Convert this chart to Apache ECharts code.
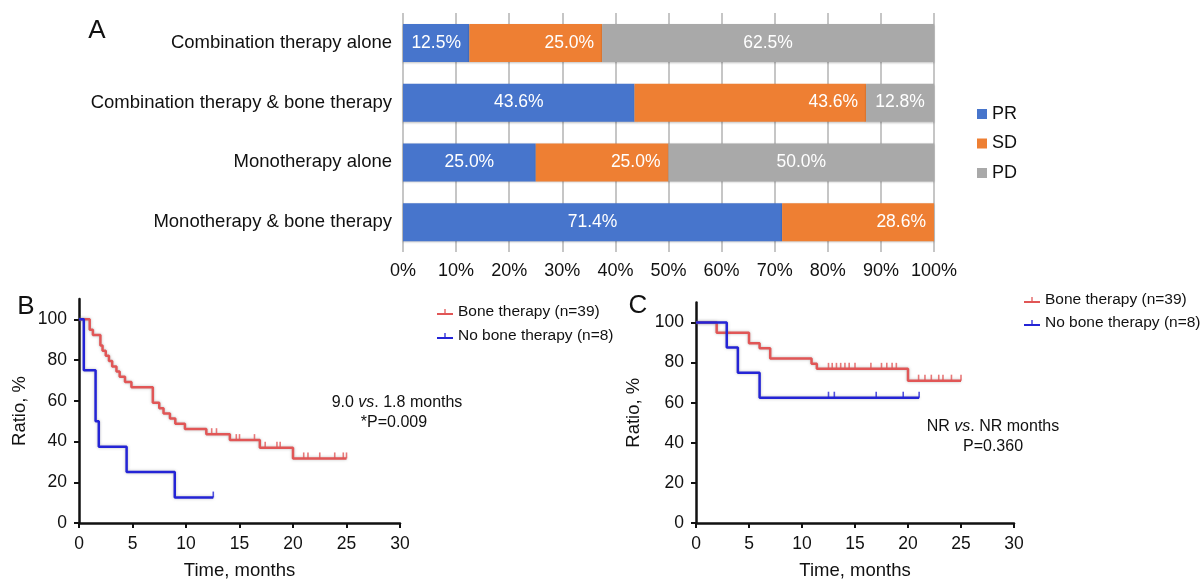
<!DOCTYPE html>
<html>
<head>
<meta charset="utf-8">
<script src="https://cdn.jsdelivr.net/npm/echarts@6/dist/echarts.min.js"></script>
<style>
  html, body { margin: 0; padding: 0; background: #fff; }
  #chart { width: 1204px; height: 581px; }
</style>
</head>
<body>
<div id="chart"></div>
<script>
// Panel A - response by treatment group
const categories = [
  'Combination therapy alone',
  'Combination therapy & bone therapy',
  'Monotherapy alone',
  'Monotherapy & bone therapy',
]
const prValues = [12.5, 43.6, 25.0, 71.4]
const sdValues = [25.0, 43.6, 25.0, 28.6]
const pdValues = [62.5, 12.8, 50.0, 0]
const pctTicks = [0, 10, 20, 30, 40, 50, 60, 70, 80, 90, 100]

// Panel B - KM steps [months, %]
const boneB = [[0, 100], [1.0, 94.9], [1.3, 92.3], [2.0, 87.2], [2.2, 84.6], [2.5, 82.1], [2.8, 79.5],
  [3.1, 76.9], [3.5, 74.4], [3.8, 71.8], [4.3, 69.2], [4.9, 66.7], [6.9, 59.0], [7.5, 56.4],
  [7.9, 53.8], [8.5, 51.3], [9.0, 48.7], [9.9, 46.2], [11.9, 43.6], [14.1, 40.7], [16.9, 37.0],
  [20.0, 31.7], [25.0, 31.7]]
const boneBCensor = [12.4, 12.85, 14.7, 15.0, 16.4, 17.4, 18.5, 18.8, 21.0, 21.4, 22.5, 23.9, 24.7, 25.0]
const noBoneB = [[0, 100], [0.45, 75], [1.55, 50], [1.85, 37.5], [4.45, 25], [8.95, 12.5], [12.55, 12.5]]
const noBoneBCensor = [12.55]

// Panel C - KM steps [months, %]
const boneC = [[0, 100], [1.95, 94.9], [5.0, 89.7], [6.0, 87.2], [7.0, 82.1], [10.9, 79.5], [11.4, 76.9],
  [20.0, 71.0], [25.0, 71.0]]
const boneCCensor = [12.5, 12.85, 13.25, 13.65, 14.05, 14.45, 15.0, 16.5, 17.5, 18.0, 18.5, 18.9,
  21.0, 21.6, 22.2, 22.9, 23.3, 24.1, 25.0]
const noBoneC = [[0, 100], [2.9, 87.5], [3.95, 75], [6.0, 62.5], [21.05, 62.5]]
const noBoneCCensor = [12.5, 13.05, 17.0, 19.55, 21.05]

const yTicks = [0, 20, 40, 60, 80, 100]
const boneName = 'Bone therapy (n=39)'
const noBoneName = 'No bone therapy (n=8)'

const FONT = "'Liberation Sans', Helvetica, Arial, sans-serif"
const RED = '#e15656'
const BLUE = '#2424d6'
const kmIcon = 'path://M0,8 L20,8 L20,10.5 L0,10.5 Z M9.2,3 L10.8,3 L10.8,9 L9.2,9 Z'

// survival value in effect at time t (step function)
const survAt = (steps, t) => {
  let v = steps[0][1]
  steps.forEach(([x, y]) => { if (x <= t) v = y })
  return v
}

const barLabel = position => ({
  show: true,
  position,
  distance: 8,
  color: '#fff',
  fontSize: 17.5,
  fontFamily: FONT,
  formatter: p => (p.value > 0 ? p.value.toFixed(1) + '%' : ''),
})

const barSeries = (name, data, color, position) => ({
  type: 'bar',
  name,
  stack: 'resp',
  data,
  barWidth: 38,
  xAxisIndex: 0,
  yAxisIndex: 0,
  itemStyle: { color, shadowColor: 'rgba(0,0,0,0.25)', shadowBlur: 2, shadowOffsetY: 1 },
  label: barLabel(position),
})

const kmLine = (name, data, color, idx) => ({
  type: 'line',
  name,
  data,
  step: 'end',
  showSymbol: false,
  xAxisIndex: idx,
  yAxisIndex: idx,
  itemStyle: { color },
  lineStyle: { color, width: 2.5, shadowColor: 'rgba(110,110,110,0.45)', shadowBlur: 3 },
  z: 3,
})

const kmCensor = (name, times, steps, color, idx) => ({
  type: 'scatter',
  name,
  data: times.map(t => [t, survAt(steps, t)]),
  symbol: 'path://M0,0 L1,0 L1,10 L0,10 Z',
  symbolSize: [1.6, 6],
  symbolOffset: [0, -3],
  xAxisIndex: idx,
  yAxisIndex: idx,
  itemStyle: { color },
  z: 4,
})

const kmXAxis = gridIndex => ({
  type: 'value',
  gridIndex,
  min: 0,
  max: 30,
  interval: 5,
  name: 'Time, months',
  nameLocation: 'middle',
  nameGap: 38,
  nameTextStyle: { fontSize: 18.5, color: '#111', fontFamily: FONT },
  axisLine: { lineStyle: { color: '#111', width: 2.5 } },
  axisTick: { show: true, inside: false, length: 5, lineStyle: { color: '#111', width: 2 } },
  axisLabel: { fontSize: 17.5, color: '#111', margin: 12, fontFamily: FONT },
  splitLine: { show: false },
})

const kmYAxis = (gridIndex, nameGap) => ({
  type: 'value',
  gridIndex,
  min: 0,
  max: 110,
  name: 'Ratio, %',
  nameLocation: 'middle',
  nameGap,
  nameTextStyle: { fontSize: 18.5, color: '#111', fontFamily: FONT },
  axisLine: { show: true, lineStyle: { color: '#111', width: 2.5 } },
  axisTick: { show: true, inside: false, length: 5, customValues: yTicks, lineStyle: { color: '#111', width: 2 } },
  axisLabel: { fontSize: 17.5, color: '#111', margin: 12, customValues: yTicks, fontFamily: FONT },
  splitLine: { show: false },
})

const kmLegend = (left, top, itemGap) => ({
  data: [boneName, noBoneName],
  orient: 'vertical',
  left,
  top,
  padding: 0,
  itemGap,
  icon: kmIcon,
  itemWidth: 16,
  itemHeight: 8,
  textStyle: { fontSize: 15.5, lineHeight: 16, color: '#111', fontFamily: FONT },
})

const note = (x, y, rich) => ({
  type: 'text',
  x,
  y,
  style: {
    text: rich,
    align: 'center',
    verticalAlign: 'middle',
    fill: '#111',
    rich: {
      n: { fontSize: 16, fontFamily: FONT, fill: '#111' },
      i: { fontSize: 16, fontFamily: FONT, fontStyle: 'italic', fill: '#111' },
    },
  },
})

const letter = (x, y, text) => ({
  type: 'text',
  x,
  y,
  style: { text, fontSize: 26, fontFamily: FONT, fill: '#111', align: 'center', verticalAlign: 'middle' },
})

const chart = echarts.init(document.getElementById('chart'), null, { renderer: 'canvas' })

chart.setOption({
  animation: false,
  backgroundColor: '#fff',
  textStyle: { fontFamily: FONT },
  grid: [
    { left: 403, top: 13, width: 531, height: 239 },
    { left: 79, top: 299, width: 321, height: 224.4 },
    { left: 696, top: 302.5, width: 318, height: 222.5 },
  ],
  legend: [
    {
      data: ['PR', 'SD', 'PD'],
      orient: 'vertical',
      left: 977,
      top: 105,
      padding: 0,
      itemGap: 11.5,
      icon: 'rect',
      itemWidth: 10,
      itemHeight: 10,
      textStyle: { fontSize: 18, lineHeight: 18, color: '#111', fontFamily: FONT },
    },
    kmLegend(437, 304, 8),
    kmLegend(1024, 292, 7),
  ],
  xAxis: [
    {
      type: 'value',
      gridIndex: 0,
      min: 0,
      max: 100,
      interval: 10,
      axisLine: { show: false },
      axisTick: { show: false },
      axisLabel: { fontSize: 18, color: '#111', margin: 10, formatter: '{value}%', customValues: pctTicks, fontFamily: FONT },
      splitLine: { show: true, lineStyle: { color: '#c6c6c6', width: 2 } },
    },
    kmXAxis(1),
    kmXAxis(2),
  ],
  yAxis: [
    {
      type: 'category',
      gridIndex: 0,
      data: categories,
      inverse: true,
      axisLine: { show: false },
      axisTick: { show: false },
      axisLabel: { fontSize: 18.5, color: '#111', margin: 11, fontFamily: FONT },
    },
    kmYAxis(1, 50),
    kmYAxis(2, 53),
  ],
  graphic: [
    letter(97, 31, 'A'),
    letter(26, 307, 'B'),
    letter(638, 306, 'C'),
    note(397, 403, '{n|9.0 }{i|vs}{n|. 1.8 months}'),
    note(394, 423, '{n|*P=0.009}'),
    note(993, 427, '{n|NR }{i|vs}{n|. NR months}'),
    note(993, 447, '{n|P=0.360}'),
  ],
  series: [
    barSeries('PR', prValues, '#4775cc', 'inside'),
    barSeries('SD', sdValues, '#ee7f33', 'insideRight'),
    barSeries('PD', pdValues, '#a9a9a9', 'inside'),
    kmLine(boneName, boneB, RED, 1),
    kmLine(noBoneName, noBoneB, BLUE, 1),
    kmCensor(boneName, boneBCensor, boneB, RED, 1),
    kmCensor(noBoneName, noBoneBCensor, noBoneB, BLUE, 1),
    kmLine(boneName, boneC, RED, 2),
    kmLine(noBoneName, noBoneC, BLUE, 2),
    kmCensor(boneName, boneCCensor, boneC, RED, 2),
    kmCensor(noBoneName, noBoneCCensor, noBoneC, BLUE, 2),
  ],
})
</script>
</body>
</html>
